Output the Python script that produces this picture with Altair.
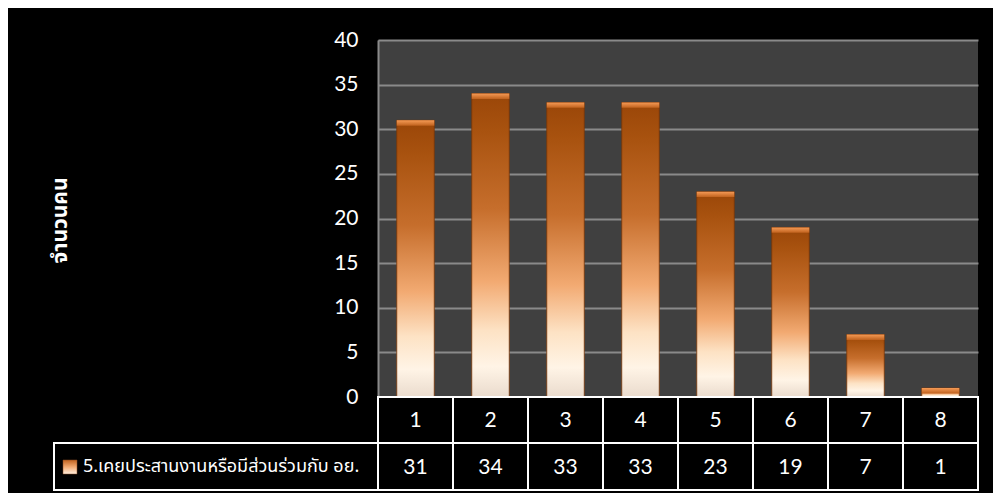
import altair as alt
import pandas as pd

categories = ["1", "2", "3", "4", "5", "6", "7", "8"]
values = [31, 34, 33, 33, 23, 19, 7, 1]
series_label = "5.เคยประสานงานหรือมีส่วนร่วมกับ อย."
y_title = "จำนวนคน"
y_ticks = [0, 5, 10, 15, 20, 25, 30, 35, 40]

df = pd.DataFrame({"cat": categories, "val": values})
df_leg = pd.DataFrame({"label": [series_label]})

NUM_FONT = "Lato"
THAI_FONT = "Noto Sans Thai, Tahoma, Noto Sans, sans-serif"

bar_grad = alt.Gradient(
    gradient="linear", x1=0, y1=0, x2=0, y2=1,
    stops=[
        alt.GradientStop(color="#9a4608", offset=0),
        alt.GradientStop(color="#a8520f", offset=0.12),
        alt.GradientStop(color="#c66e2c", offset=0.38),
        alt.GradientStop(color="#f2aa72", offset=0.62),
        alt.GradientStop(color="#fde2c4", offset=0.78),
        alt.GradientStop(color="#fff4e6", offset=0.9),
        alt.GradientStop(color="#eadbcd", offset=1),
    ],
)
cap_grad = alt.Gradient(
    gradient="linear", x1=0, y1=0, x2=0, y2=1,
    stops=[
        alt.GradientStop(color="#f59a55", offset=0),
        alt.GradientStop(color="#c0621e", offset=1),
    ],
)
sw_grad = alt.Gradient(
    gradient="linear", x1=0, y1=0, x2=0, y2=1,
    stops=[
        alt.GradientStop(color="#c0621e", offset=0),
        alt.GradientStop(color="#f2aa72", offset=0.5),
        alt.GradientStop(color="#fff0e0", offset=1),
    ],
)

xenc = alt.X("cat:N", sort=None, axis=None,
             scale=alt.Scale(paddingInner=0, paddingOuter=0))

base = alt.Chart(df)

bars = base.mark_bar(width=alt.RelativeBandSize(0.5), color=bar_grad,
                     stroke="#7a3606", strokeWidth=0.8).encode(
    x=xenc,
    y=alt.Y("val:Q", scale=alt.Scale(domain=[0, 40]),
            axis=alt.Axis(values=y_ticks, title=y_title, labelColor="white",
                          labelFontSize=21, labelFont=NUM_FONT, labelPadding=20,
                          ticks=False, domainColor="#8a8a8a", domainWidth=2,
                          gridColor="#8a8a8a", gridWidth=2,
                          titleColor="white", titleFontSize=21,
                          titleFont=THAI_FONT, titleFontWeight="bold",
                          titleX=-318, titleY=180, titleAngle=-90,
                          titleAlign="center", titleBaseline="middle")),
)

caps = base.transform_calculate(
    top="datum.val", bot="max(0, datum.val - 0.6)"
).mark_bar(width=alt.RelativeBandSize(0.5), color=cap_grad).encode(
    x=xenc, y="top:Q", y2="bot:Q"
)

cells = base.mark_rect(fill="black", stroke="white", strokeWidth=2).encode(
    x=xenc, y=alt.value(357), y2=alt.value(403)
)
cells2 = base.mark_rect(fill="black", stroke="white", strokeWidth=2).encode(
    x=xenc, y=alt.value(403), y2=alt.value(450)
)
row1 = base.mark_text(color="white", fontSize=21, font=NUM_FONT,
                      baseline="middle").encode(
    x=xenc, y=alt.value(381), text="cat:N"
)
row2 = base.mark_text(color="white", fontSize=21, font=NUM_FONT,
                      baseline="middle").encode(
    x=xenc, y=alt.value(428), text="val:Q"
)

leg = alt.Chart(df_leg)
leg_cell = leg.mark_rect(fill="black", stroke="white", strokeWidth=2).encode(
    x=alt.value(-324), x2=alt.value(0), y=alt.value(403), y2=alt.value(450)
)
leg_sw = leg.mark_rect(color=sw_grad, stroke="#8a4a20", strokeWidth=0.5).encode(
    x=alt.value(-315), x2=alt.value(-301), y=alt.value(420), y2=alt.value(434)
)
leg_txt = leg.mark_text(color="white", fontSize=18, font=THAI_FONT,
                        align="left", baseline="middle").encode(
    x=alt.value(-295), y=alt.value(427), text="label:N"
)

chart = alt.layer(
    bars, caps, cells, cells2, row1, row2, leg_cell, leg_sw, leg_txt
).properties(
    width=600, height=357,
    padding={"left": 370, "top": 32, "right": 15, "bottom": 96},
    autosize=alt.AutoSizeParams(type="none"),
    background="black",
).configure_view(fill="#404040", strokeWidth=0)

chart.save("out.html", embed_options={"renderer": "svg", "actions": False})
